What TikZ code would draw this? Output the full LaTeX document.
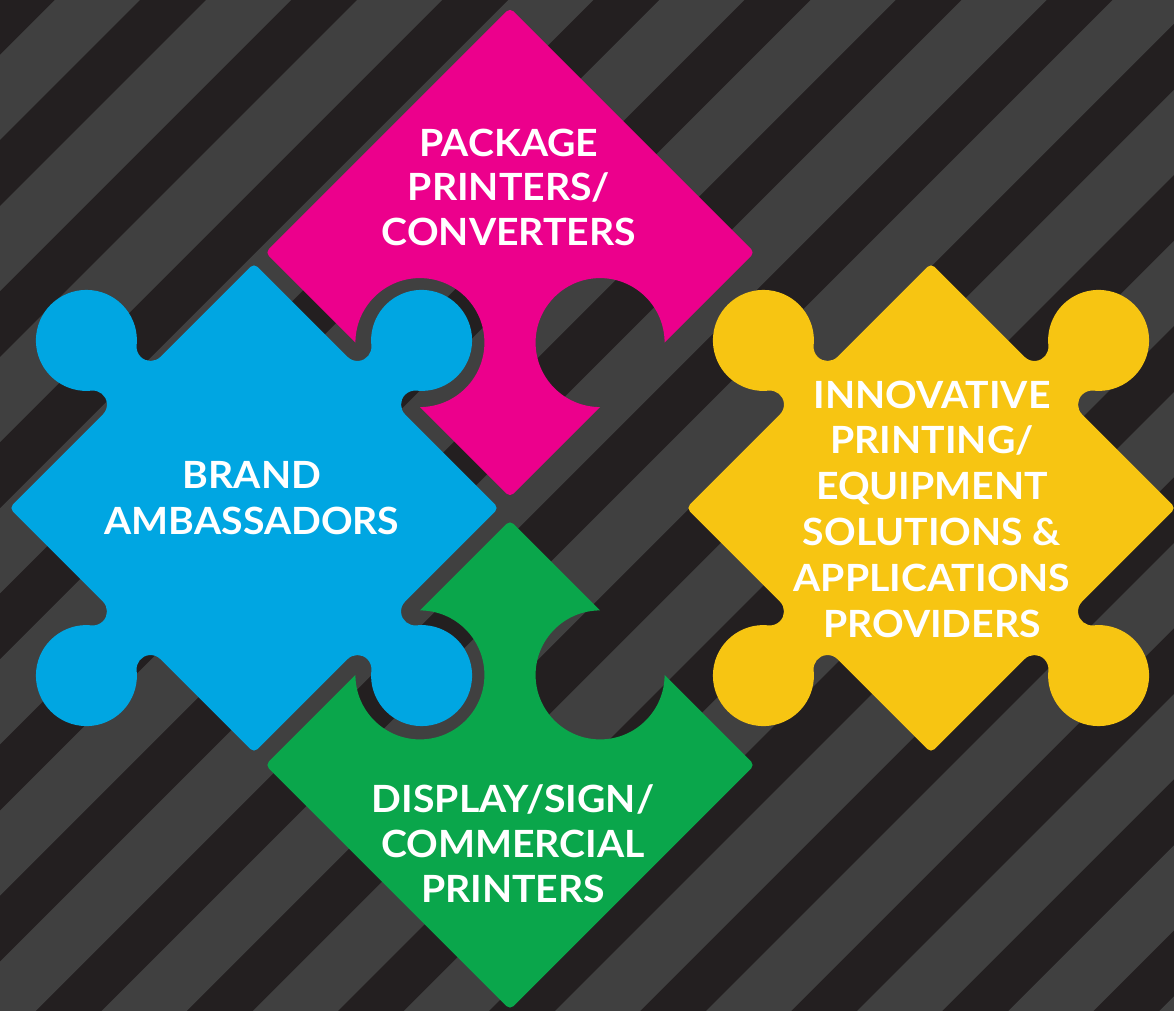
\documentclass[tikz,border=0pt]{standalone}
\usepackage{fontspec}
\setmainfont{Lato}[FakeStretch=1.045]
\definecolor{bgblack}{HTML}{231F20}
\definecolor{bggray}{HTML}{404040}
\definecolor{ppink}{HTML}{EC008C}
\definecolor{pblue}{HTML}{00A6E2}
\definecolor{pgreen}{HTML}{0AA64B}
\definecolor{pyellow}{HTML}{F7C512}
\pgfmathsetmacro{\h}{173}
\pgfmathsetmacro{\rc}{5}
\pgfmathsetmacro{\R}{50.5}
\pgfmathsetmacro{\rf}{14}
\pgfmathsetmacro{\s}{40.75}
\pgfmathsetmacro{\al}{39.18}
\pgfmathsetmacro{\Rn}{64.5}
\pgfmathsetmacro{\e}{45.61}
\begin{document}
\begin{tikzpicture}[x=1pt,y=1pt,
  lbl/.style={text=white, font=\bfseries\fontsize{37.5}{45}\selectfont, anchor=base, inner sep=0pt},
  stripe/.style={fill=bggray}]
\useasboundingbox (0,0) rectangle (1174,1010);
\begin{scope}
\clip (-6,-6) rectangle (1180,1016);
\fill[bgblack] (-6,-6) rectangle (1180,1016);
\foreach \k in {0,...,15}{
  \pgfmathsetmacro{\a}{-955+151.1*\k}
  \pgfmathsetmacro{\b}{-870+151.1*\k}
  \fill[stripe] (\a-50,-50) -- (\a+1060,1060) -- (\b+1060,1060) -- (\b-50,-50) -- cycle;
}
% pink piece: notches on local left and bottom edges
\begin{scope}[shift={(510,757.5)},rotate=45]
\fill[ppink] (\h,-\h+\rc) -- (\h,\h-\rc) arc[start angle=0,end angle=90,radius=\rc]
  -- (-\h+\rc,\h) arc[start angle=90,end angle=180,radius=\rc]
  -- (-\h,\e) arc[start angle=135,end angle=-135,radius=\Rn]
  -- (-\h,-\h+\rc) arc[start angle=180,end angle=270,radius=\rc]
  -- (-\e,-\h) arc[start angle=225,end angle=-45,radius=\Rn]
  -- (\h-\rc,-\h) arc[start angle=270,end angle=360,radius=\rc] -- cycle;
\end{scope}
% green piece: notches on local right and top edges
\begin{scope}[shift={(510,245)},rotate=45]
\fill[pgreen] (\h,-\h+\rc)
  -- (\h,-\e) arc[start angle=-45,end angle=-315,radius=\Rn]
  -- (\h,\h-\rc) arc[start angle=0,end angle=90,radius=\rc]
  -- (\e,\h) arc[start angle=45,end angle=-225,radius=\Rn]
  -- (-\h+\rc,\h) arc[start angle=90,end angle=180,radius=\rc]
  -- (-\h,-\h+\rc) arc[start angle=180,end angle=270,radius=\rc]
  -- (\h-\rc,-\h) arc[start angle=270,end angle=360,radius=\rc] -- cycle;
\end{scope}
% blue and yellow pieces: knobs on all edges
\foreach \cx/\cy/\col in {254/502/pblue, 931/502/pyellow}{
\begin{scope}[shift={(\cx,\cy)},rotate=45]
\fill[\col] (\h,-\h+\rc)
  -- (\h,-\s) arc[start angle=180,end angle=\al,radius=\rf]
     arc[start angle=-180+\al,end angle=180-\al,radius=\R]
     arc[start angle=-\al,end angle=-180,radius=\rf]
  -- (\h,\h-\rc) arc[start angle=0,end angle=90,radius=\rc]
  -- (\s,\h) arc[start angle=270,end angle=90+\al,radius=\rf]
     arc[start angle=-90+\al,end angle=270-\al,radius=\R]
     arc[start angle=90-\al,end angle=-90,radius=\rf]
  -- (-\h+\rc,\h) arc[start angle=90,end angle=180,radius=\rc]
  -- (-\h,\s) arc[start angle=360,end angle=180+\al,radius=\rf]
     arc[start angle=\al,end angle=360-\al,radius=\R]
     arc[start angle=180-\al,end angle=0,radius=\rf]
  -- (-\h,-\h+\rc) arc[start angle=180,end angle=270,radius=\rc]
  -- (-\s,-\h) arc[start angle=450,end angle=270+\al,radius=\rf]
     arc[start angle=90+\al,end angle=450-\al,radius=\R]
     arc[start angle=270-\al,end angle=90,radius=\rf]
  -- (\h-\rc,-\h) arc[start angle=270,end angle=360,radius=\rc] -- cycle;
\end{scope}
}
\end{scope}
% labels
\node[lbl] (pk1) at (509,853) {PACKAGE};
\node[lbl] (pk2) at (509,809) {PRINTERS/};
\node[lbl] (pk3) at (509,764.5) {CONVERTERS};
\node[lbl] (br1) at (252,521) {BRAND};
\node[lbl] (br2) at (252,475) {AMBASSADORS};
\node[lbl] (in1) at (932,601) {INNOVATIVE};
\node[lbl] (in2) at (932,556) {PRINTING/};
\node[lbl] (in3) at (932,510) {EQUIPMENT};
\node[lbl] (in4) at (932,464) {SOLUTIONS \&};
\node[lbl] (in5) at (932,418) {APPLICATIONS};
\node[lbl] (in6) at (932,373) {PROVIDERS};
\node[lbl] (ds1) at (513,198) {DISPLAY/SIGN/};
\node[lbl] (ds2) at (513,153) {COMMERCIAL};
\node[lbl] (ds3) at (513,108) {PRINTERS};
\end{tikzpicture}
\end{document}
